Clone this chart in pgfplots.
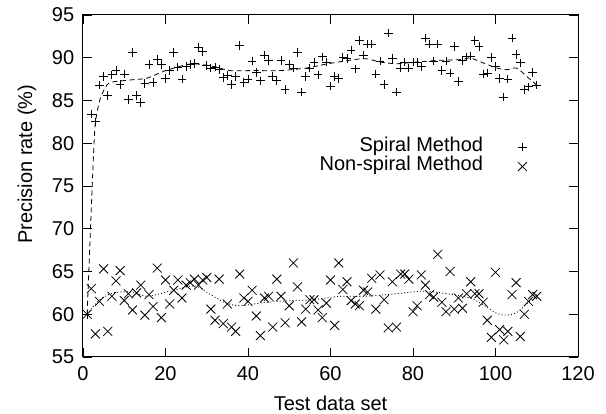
\documentclass[border=0pt]{standalone}
\usepackage{fontspec}
\setmainfont{Liberation Sans}
\usepackage{pgfplots}
\pgfplotsset{compat=1.18}
\usepackage{pgfplotstable}
\pgfplotstableread{
x y
1 60.0
2 83.4
3 82.5
4 86.8
5 87.8
6 85.6
7 88.0
8 88.5
9 86.9
10 88.1
11 85.1
12 90.6
13 85.6
14 84.8
15 87.0
16 89.2
17 87.1
18 89.8
19 89.2
20 87.6
21 88.5
22 90.6
23 88.9
24 87.5
25 89.0
26 89.2
27 89.3
28 91.2
29 90.7
30 89.1
31 88.8
32 88.9
33 88.6
34 87.7
35 87.9
36 86.9
37 87.8
38 91.4
39 87.1
40 87.5
41 89.6
42 88.3
43 87.3
44 90.3
45 89.7
46 87.8
47 87.3
48 89.7
49 86.3
50 89.2
51 88.8
52 90.6
53 86.0
54 87.8
55 88.8
56 89.5
57 88.0
58 90.1
59 89.5
60 86.7
61 87.8
62 87.6
63 90.0
64 89.9
65 90.9
66 88.7
67 92.0
68 90.3
69 91.6
70 91.6
71 88.1
72 89.6
73 86.9
74 92.9
75 89.9
76 86.0
77 88.8
78 89.5
79 88.8
80 89.5
81 89.5
82 89.0
83 92.3
84 91.6
85 89.6
86 91.6
87 88.5
88 89.6
89 88.2
90 91.3
91 87.2
92 89.7
93 90.1
94 90.2
95 92.0
96 91.3
97 88.1
98 88.2
99 90.0
100 89.0
101 87.6
102 85.4
103 87.5
104 92.3
105 90.4
106 89.4
107 86.3
108 86.6
109 88.3
110 86.8
}\spiral
\pgfplotstableread{
x y
1 60.0
2 63.0
3 57.7
4 61.5
5 65.3
6 58.0
7 62.1
8 63.9
9 65.1
10 61.6
11 62.4
12 60.5
13 62.5
14 63.4
15 59.9
16 62.3
17 60.9
18 65.4
19 59.6
20 64.0
21 61.2
22 62.8
23 64.0
24 61.9
25 63.4
26 63.7
27 64.1
28 63.4
29 64.0
30 64.3
31 60.6
32 59.3
33 64.1
34 58.9
35 61.2
36 58.5
37 58.0
38 64.7
39 61.9
40 61.5
41 62.8
42 59.8
43 57.5
44 61.9
45 62.1
46 58.5
47 64.1
48 62.1
49 59.0
50 61.0
51 66.0
52 63.2
53 59.1
54 60.6
55 61.7
56 61.7
57 60.5
58 59.6
59 61.3
60 64.0
61 58.7
62 66.0
63 62.9
64 63.8
65 61.6
66 61.2
67 61.0
68 62.8
69 62.6
70 64.2
71 60.6
72 64.6
73 61.7
74 58.4
75 63.8
76 58.5
77 64.7
78 64.7
79 64.1
80 60.3
81 61.0
82 64.6
83 63.4
84 62.3
85 62.0
86 67.0
87 61.4
88 60.3
89 65.0
90 60.6
91 61.9
92 60.7
93 62.4
94 63.8
95 62.4
96 62.4
97 61.4
98 59.3
99 57.3
100 64.9
101 58.2
102 57.0
103 58.0
104 62.3
105 63.7
106 57.4
107 60.0
108 61.5
109 62.3
110 62.1
}\nonspiral
\begin{document}
\fontsize{20pt}{24pt}\selectfont
\begin{tikzpicture}
\useasboundingbox (0,0) rectangle (606pt,414pt);
\begin{axis}[
  at={(83pt,57pt)}, anchor=south west,
  width=495pt, height=342pt, scale only axis,
  xmin=0, xmax=120, ymin=55, ymax=95,
  xtick={0,20,...,120}, ytick={55,60,...,95},
  tick align=inside, major tick length=9pt,
  tick style={black, line width=0.7pt},
  axis line style={black, line width=1pt},
  /pgf/number format/assume math mode=true,
  ticklabel style={font=\fontsize{20pt}{24pt}\selectfont},
  xticklabel style={yshift=-3pt},
  yticklabel style={xshift=-2pt},
  xlabel={Test data set},
  ylabel={Precision rate (\%)},
  xlabel style={at={(axis description cs:0.5,0)}, anchor=north, yshift=-32pt},
  ylabel style={at={(axis description cs:-0.113,0.564)}, anchor=center},
  legend plot pos=right,
  legend cell align=right,
  legend image code/.code={\path (0pt,0pt) (48pt,0pt); \draw[#1] plot coordinates {(38pt,0pt)};},
  legend style={draw=none, fill=none, at={(axis cs:109.1,80.6)}, anchor=north east,
    row sep=2pt, inner sep=0pt,
    nodes={inner sep=1pt, text height=12pt, text depth=3.5pt, font=\fontsize{20pt}{24pt}\selectfont}},
]
\addplot[black, dash pattern=on 5pt off 3.5pt, line width=0.8pt, smooth, tension=0.4, forget plot] coordinates {
(1,60) (2.1,73.4) (2.9,81.9) (4.1,85.1) (5.3,86.4) (6.5,87.1) (11.4,87.4) (15.4,87.6) (19.5,88.4) (23.5,89.0) (26.7,89.3) (31.6,89.0) (35.6,88.5) (41.3,88.5) (47.8,88.5) (54.2,88.8) (60,89.35) (68,89.9) (72,89.5) (76,89.3) (80.9,89.5) (86.5,89.7) (92.2,89.8) (93.8,90.0) (97,89.4) (100.3,88.8) (102.7,88.6) (105.1,88.8) (107.6,87.8) (110,86.8)};
\addplot[black, dash pattern=on 1pt off 2.2pt, line width=0.8pt, smooth, tension=0.5, forget plot] coordinates {
(1,60) (4.1,61.7) (7.4,62.5) (11.4,62.6) (15.4,62.1) (19.5,62.5) (25.1,63.2) (27.5,63.3) (31.6,62.1) (34.8,61.3) (38.1,61.0) (44.5,61.4) (51,61.6) (55.8,61.7) (62.3,62.1) (68,62.1) (76,62.4) (82.5,62.7) (88.2,62.4) (93.8,61.9) (97,61.1) (100.3,60.1) (102.7,59.9) (105.1,60.2) (107.6,61.2) (110,62.3)};
\addplot[black, only marks, mark=+, mark size=4.3pt, line width=0.8pt] table[x=x,y=y] {\spiral};
\addlegendentry{Spiral Method}
\addplot[black, only marks, mark=x, mark size=6.3pt, line width=0.8pt] table[x=x,y=y] {\nonspiral};
\addlegendentry{Non-spiral Method}
\end{axis}
\end{tikzpicture}
\end{document}
